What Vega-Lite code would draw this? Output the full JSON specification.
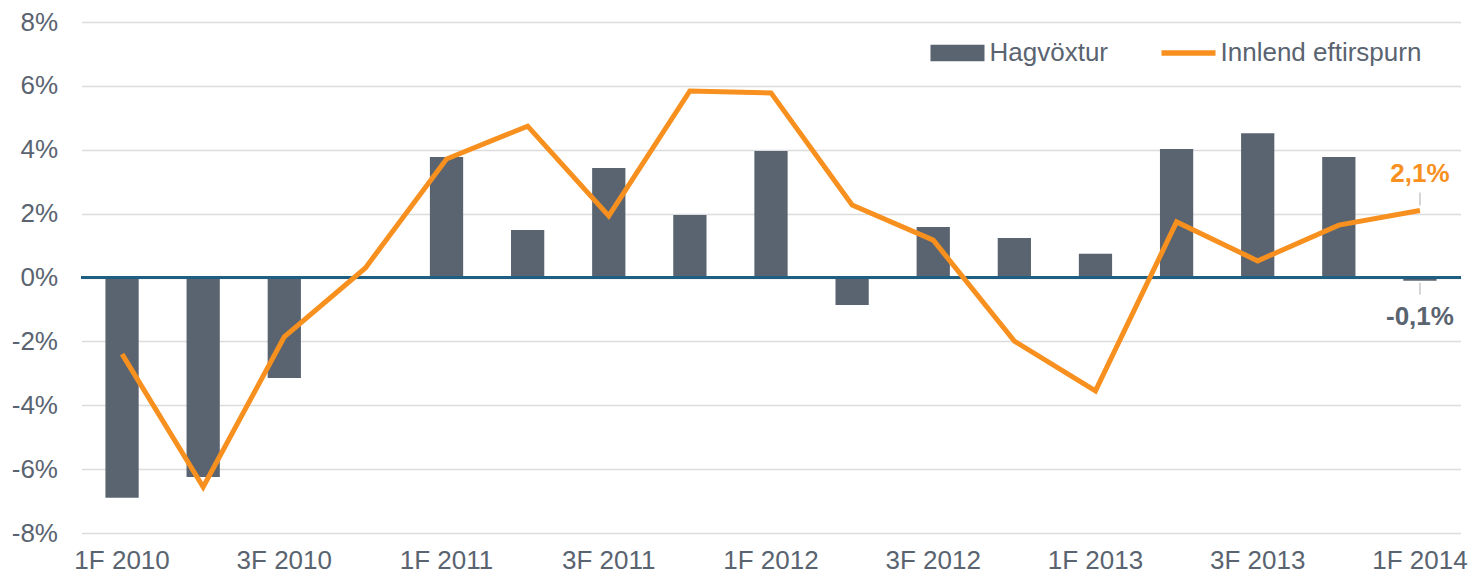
{
  "$schema": "https://vega.github.io/schema/vega-lite/v6.json",
  "width": 1379,
  "height": 511,
  "autosize": {"type": "none"},
  "padding": {"left": 81.5, "top": 22, "right": 11.5, "bottom": 43},
  "background": "white",
  "config": {
    "locale": {"number": {"decimal": ",", "thousands": ".", "grouping": [3], "currency": ["", " kr."], "minus": "-"}},
    "view": {"stroke": null},
    "font": "Liberation Sans"
  },
  "data": {
    "values": [
      {"q": "1F 2010", "hag": -0.069, "inn": -0.024},
      {"q": "2F 2010", "hag": -0.0625, "inn": -0.0656},
      {"q": "3F 2010", "hag": -0.0315, "inn": -0.0186},
      {"q": "4F 2010", "hag": 0.0, "inn": 0.003},
      {"q": "1F 2011", "hag": 0.0377, "inn": 0.0371},
      {"q": "2F 2011", "hag": 0.0149, "inn": 0.0474},
      {"q": "3F 2011", "hag": 0.0343, "inn": 0.0193},
      {"q": "4F 2011", "hag": 0.0196, "inn": 0.0584},
      {"q": "1F 2012", "hag": 0.0396, "inn": 0.0578},
      {"q": "2F 2012", "hag": -0.0086, "inn": 0.0227},
      {"q": "3F 2012", "hag": 0.0158, "inn": 0.0117},
      {"q": "4F 2012", "hag": 0.0124, "inn": -0.0199},
      {"q": "1F 2013", "hag": 0.0074, "inn": -0.0355},
      {"q": "2F 2013", "hag": 0.0402, "inn": 0.0174},
      {"q": "3F 2013", "hag": 0.0452, "inn": 0.0052},
      {"q": "4F 2013", "hag": 0.0377, "inn": 0.0164},
      {"q": "1F 2014", "hag": -0.001, "inn": 0.021}
    ]
  },
  "encoding": {
    "x": {
      "field": "q", "type": "nominal", "sort": null,
      "scale": {"paddingInner": 0.59, "paddingOuter": 0.295},
      "axis": {
        "title": null, "labelAngle": 0, "ticks": false, "domain": false, "grid": false,
        "values": ["1F 2010", "3F 2010", "1F 2011", "3F 2011", "1F 2012", "3F 2012", "1F 2013", "3F 2013", "1F 2014"],
        "labelFontSize": 26, "labelColor": "#5a6470", "labelPadding": 14, "labelFont": "Liberation Sans", "labelOverlap": false
      }
    }
  },
  "layer": [
    {
      "mark": {"type": "bar", "color": "#5a6470"},
      "encoding": {
        "y": {
          "field": "hag", "type": "quantitative",
          "scale": {"domain": [-0.08, 0.08], "nice": false},
          "axis": {
            "title": null, "format": ".0%", "values": [-0.08, -0.06, -0.04, -0.02, 0, 0.02, 0.04, 0.06, 0.08],
            "ticks": false, "domain": false, "labelOverlap": false, "labelFlush": false,
            "gridColor": "#dcdcdc", "gridWidth": 1.5,
            "labelFontSize": 26, "labelColor": "#5a6470", "labelPadding": 24, "labelFont": "Liberation Sans"
          }
        },
        "color": {
          "datum": "Hagvöxtur",
          "scale": {"domain": ["Hagvöxtur", "Innlend eftirspurn"], "range": ["#5a6470", "#f7901e"]},
          "legend": {
            "orient": "none", "legendX": 863, "legendY": 18, "direction": "horizontal",
            "title": null, "labelFontSize": 26, "labelColor": "#5a6470", "labelFont": "Liberation Sans", "labelLimit": 400,
            "symbolSize": 2916, "labelOffset": 19, "columnPadding": 42,
            "encode": {
              "symbols": {
                "update": {
                  "shape": {"signal": "datum.value === 'Hagvöxtur' ? 'M-1,-0.31H1V0.31H-1Z' : 'M-1,0H1'"},
                  "strokeWidth": {"signal": "datum.value === 'Hagvöxtur' ? 0 : 5.5"},
                  "stroke": {"signal": "datum.value === 'Hagvöxtur' ? '#5a6470' : '#f7901e'"},
                  "fill": {"signal": "datum.value === 'Hagvöxtur' ? '#5a6470' : 'transparent'"},
                  "opacity": {"value": 1}
                }
              }
            }
          }
        }
      }
    },
    {
      "mark": {"type": "rule", "color": "#1f5f82", "strokeWidth": 2},
      "encoding": {"y": {"datum": 0, "type": "quantitative"}, "x": {"value": 0}, "x2": {"value": 1379}}
    },
    {
      "mark": {"type": "line", "strokeWidth": 5, "strokeJoin": "miter", "strokeCap": "butt"},
      "encoding": {
        "y": {"field": "inn", "type": "quantitative"},
        "color": {"datum": "Innlend eftirspurn"}
      }
    },
    {
      "transform": [{"filter": "datum.q === '1F 2014'"}],
      "layer": [
        {
          "mark": {"type": "rule", "color": "#c8c8c8", "strokeWidth": 1.5, "yOffset": -5, "y2Offset": -18},
          "encoding": {"y": {"field": "inn", "type": "quantitative"}, "y2": {"field": "inn"}}
        },
        {
          "mark": {"type": "text", "color": "#f7901e", "fontSize": 26, "fontWeight": "bold", "dy": -36, "baseline": "middle", "font": "Liberation Sans"},
          "encoding": {"y": {"field": "inn", "type": "quantitative"}, "text": {"field": "inn", "format": ".1%"}}
        },
        {
          "mark": {"type": "rule", "color": "#c8c8c8", "strokeWidth": 1.5, "yOffset": 2, "y2Offset": 14},
          "encoding": {"y": {"field": "hag", "type": "quantitative"}, "y2": {"field": "hag"}}
        },
        {
          "mark": {"type": "text", "color": "#5a6470", "fontSize": 26, "fontWeight": "bold", "dy": 36, "baseline": "middle", "font": "Liberation Sans"},
          "encoding": {"y": {"field": "hag", "type": "quantitative"}, "text": {"field": "hag", "format": ".1%"}}
        }
      ]
    }
  ]
}
